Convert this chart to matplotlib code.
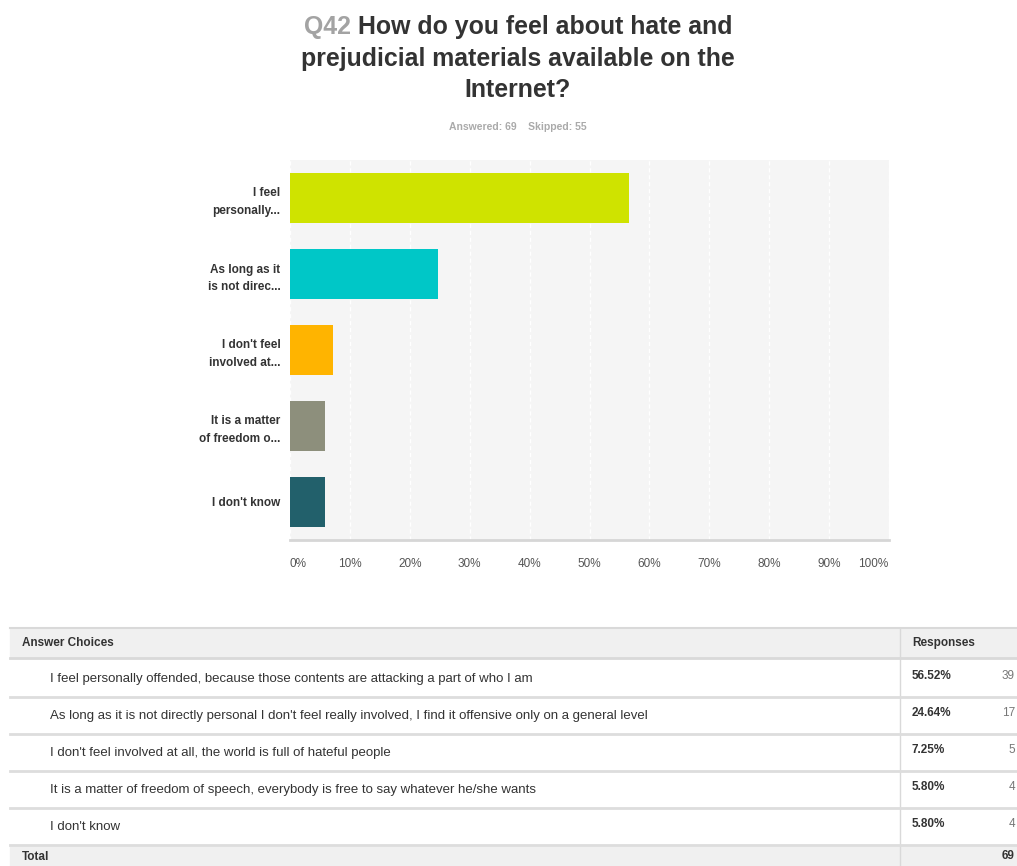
import matplotlib.pyplot as plt
from matplotlib.ticker import PercentFormatter
from matplotlib.transforms import ScaledTranslation

plt.rcParams['font.family'] = ['Liberation Sans', 'DejaVu Sans']

# survey answers (short labels for the chart, full text for the table)
short_labels = ['I feel\npersonally...', 'As long as it\nis not direc...', "I don't feel\ninvolved at...",
                'It is a matter\nof freedom o...', "I don't know"]
full_labels = ['I feel personally offended, because those contents are attacking a part of who I am',
               "As long as it is not directly personal I don't feel really involved, I find it offensive only on a general level",
               "I don't feel involved at all, the world is full of hateful people",
               'It is a matter of freedom of speech, everybody is free to say whatever he/she wants',
               "I don't know"]
percents = [56.52, 24.64, 7.25, 5.80, 5.80]
counts = [39, 17, 5, 4, 4]
total = 69
skipped = 55
bar_colors = ['#cfe300', '#00c7c7', '#ffb400', '#8d8f7c', '#22606b']

W, H = 1017, 866
fig = plt.figure(figsize=(W / 100, H / 100), dpi=100)
fig.patch.set_facecolor('white')

# ---- title ----
renderer = fig.canvas.get_renderer()
title_size = 17.9
cx = 518 / W
q = fig.text(0, 1 - 27 / H, 'Q42 ', fontsize=title_size, fontweight='bold', color='#a3a3a3', va='center')
rest = fig.text(0, 1 - 27 / H, 'How do you feel about hate and', fontsize=title_size, fontweight='bold',
                color='#333333', va='center')
wq = q.get_window_extent(renderer).width
wr = rest.get_window_extent(renderer).width
x0 = cx * W - (wq + wr) / 2
q.set_x(x0 / W)
rest.set_x((x0 + wq) / W)
fig.text(cx, 1 - 59 / H, 'prejudicial materials available on the', fontsize=title_size, fontweight='bold',
         color='#333333', ha='center', va='center')
fig.text(cx, 1 - 90 / H, 'Internet?', fontsize=title_size, fontweight='bold',
         color='#333333', ha='center', va='center')
fig.text(cx, 1 - 127 / H, 'Answered: %d    Skipped: %d' % (total, skipped), fontsize=7.5,
         fontweight='bold', color='#aaaaaa', ha='center', va='center')

# ---- bar chart ----
ax = fig.add_axes([290 / W, 1 - 540 / H, 599 / W, 380 / H])
ax.set_facecolor('#f5f5f5')
ypos = list(range(len(percents)))
ax.barh(ypos, percents, height=0.66, color=bar_colors, zorder=3)
ax.set_xlim(0, 100)
ax.set_ylim(len(percents) - 0.5, -0.5)
ax.set_xticks(range(0, 101, 10))
ax.xaxis.set_major_formatter(PercentFormatter(decimals=0))
ax.set_yticks(ypos)
ax.set_yticklabels(short_labels, fontsize=8.5, fontweight='bold', color='#333333',
                   linespacing=1.65, ha='right')
ax.tick_params(axis='y', length=0, pad=7)
ax.tick_params(axis='x', length=0, pad=13, labelsize=8.5, labelcolor='#555555')
# nudge the end labels inward so they stay within the plot width
xlabels = ax.get_xticklabels()
xlabels[0].set_transform(xlabels[0].get_transform() + ScaledTranslation(8 / 100, 0, fig.dpi_scale_trans))
xlabels[-1].set_transform(xlabels[-1].get_transform() + ScaledTranslation(-16 / 100, 0, fig.dpi_scale_trans))
ax.grid(axis='x', color='white', linestyle=(0, (3, 2)), linewidth=1, zorder=1)
for s in ['top', 'right', 'left']:
    ax.spines[s].set_visible(False)
ax.spines['bottom'].set_color('#d6d6d6')
ax.spines['bottom'].set_linewidth(2)

# ---- response table ----
tab = fig.add_axes([0, 0, 1, 1])
tab.set_xlim(0, W)
tab.set_ylim(H, 0)
tab.axis('off')

fs = 9.5
tab.axhspan(628, 658, xmin=10 / W, xmax=1, color='#f0f0f0', zorder=0)
tab.axhspan(845, 866, xmin=10 / W, xmax=1, color='#f0f0f0', zorder=0)
tab.plot([10, W], [628, 628], color='#d9d9d9', lw=1.5)
tab.plot([10, W], [658, 658], color='#d9d9d9', lw=2)
tab.plot([900, 900], [628, 866], color='#d9d9d9', lw=1)
tab.text(22, 643, 'Answer Choices', fontsize=8.5, fontweight='bold', color='#333333', va='center')
tab.text(912, 643, 'Responses', fontsize=8.5, fontweight='bold', color='#333333', va='center')

row_h = 37
for i, (txt, pct, n) in enumerate(zip(full_labels, percents, counts)):
    yc = 679 + i * row_h
    tab.text(50, yc, txt, fontsize=fs, color='#333333', va='center')
    tab.text(912, yc - 3, '%.2f%%' % pct, fontsize=8.5, fontweight='bold', color='#333333', va='center')
    tab.text(1015, yc - 3, str(n), fontsize=8.5, color='#777777', va='center', ha='right')
    ysep = yc + 18
    tab.plot([10, W], [ysep, ysep], color='#dddddd', lw=2)

tab.text(22, 857, 'Total', fontsize=8.5, fontweight='bold', color='#333333', va='center')
tab.text(1015, 856, str(total), fontsize=8.5, fontweight='bold', color='#333333', va='center', ha='right')

fig.savefig('out.png', dpi=100)
